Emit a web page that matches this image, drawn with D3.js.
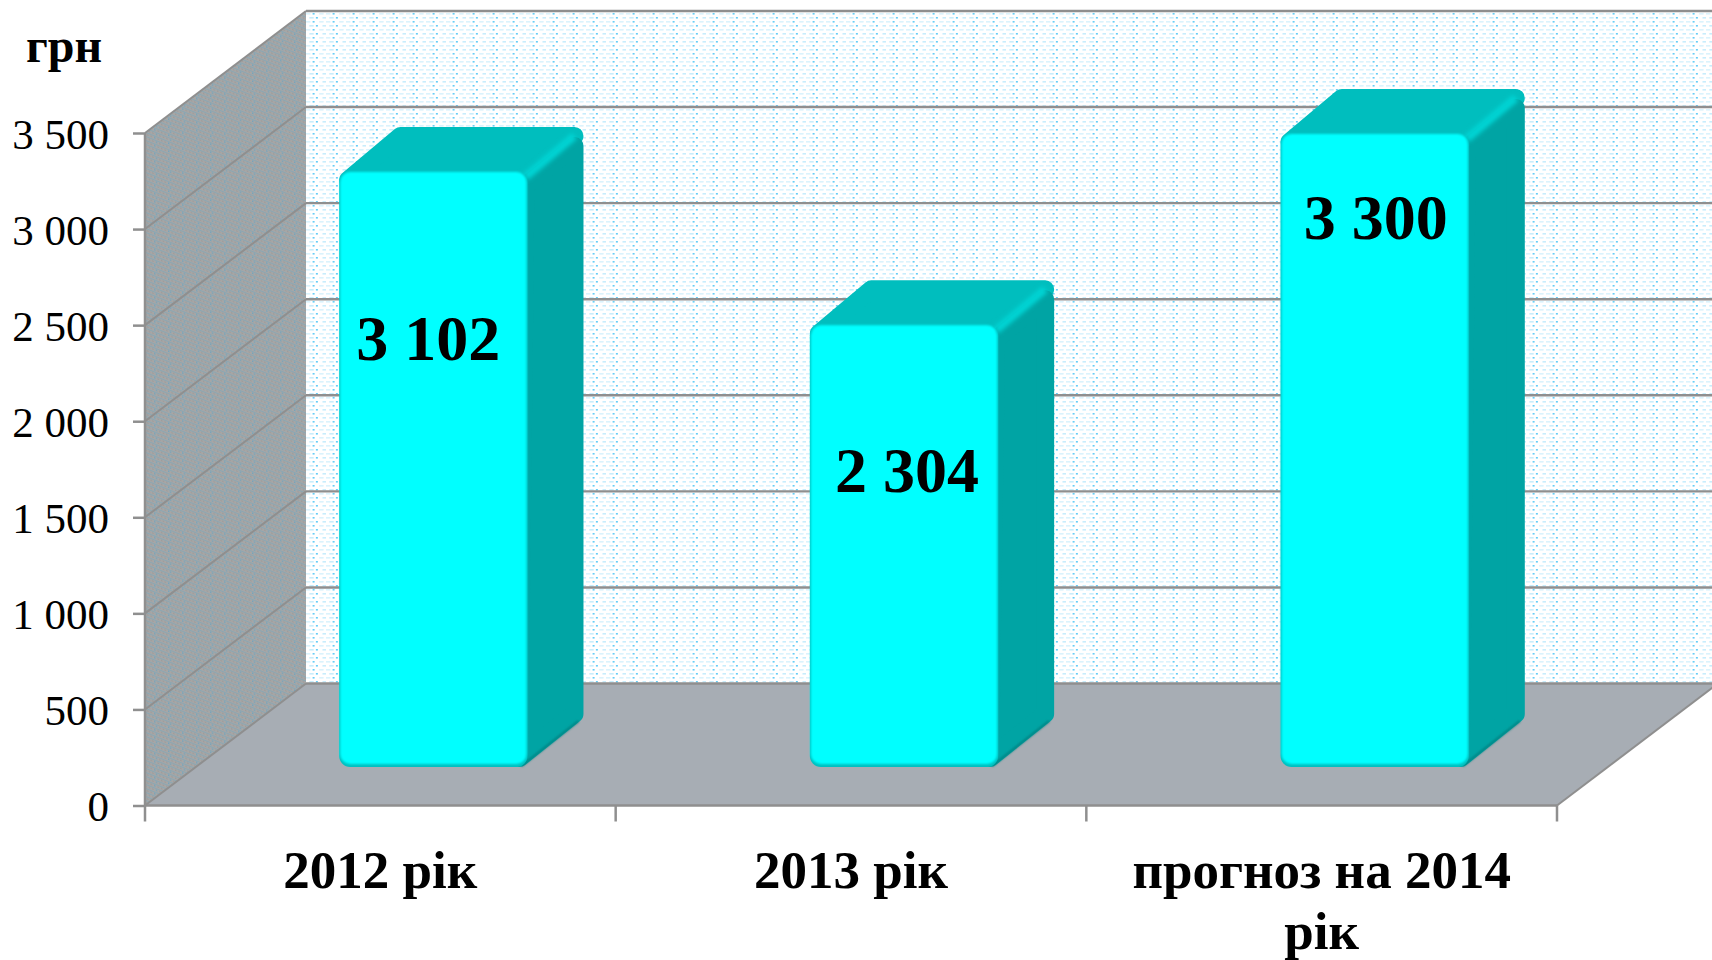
<!DOCTYPE html>
<html>
<head>
<meta charset="utf-8">
<script src="https://cdn.jsdelivr.net/npm/d3@7"></script>
<style>
	html, body { margin: 0; padding: 0; background: #fff; overflow: hidden; }
	text { font-family: "Liberation Serif", serif; fill: #000; }
</style>
</head>
<body>
<div class="svg-container"></div>
<script>
(function () {

	"use strict";

	// the data
	var categories = ["2012 рік", "2013 рік", "прогноз на 2014 рік"];
	var values = [3102, 2304, 3300];
	var value_labels = ["3 102", "2 304", "3 300"];
	var y_ticks = [0, 500, 1000, 1500, 2000, 2500, 3000, 3500];
	var unit_label = "грн";

	// chart box
	var width = 1712,
		height = 960,
		left = 145,
		right = 1557,
		floor_y = 805.5,
		top_y = 133;

	// 3d depth of the box and of the bars
	var depth_x = 161,
		depth_y = 122,
		bar_front_x = 53,
		bar_front_y = 38.5,
		bar_depth_x = 56,
		bar_depth_y = 44;

	var line_color = "#8f8f8f";

	var svg = d3.select(".svg-container").append("svg")
		.attr("width", width)
		.attr("height", height)
		.style("display", "block");

	var y = d3.scaleLinear().domain([0, 3500]).range([floor_y, top_y]);
	var x = d3.scaleBand().domain(categories).range([left, right]).paddingInner(0.6).paddingOuter(0.3);
	var x_labels = d3.scaleBand().domain(categories).range([left, right]);

	var defs = svg.append("defs");

	// back wall: light blue dashes on white, one stronger column every 20px
	var back_pattern = defs.append("pattern")
		.attr("id", "back-wall")
		.attr("patternUnits", "userSpaceOnUse")
		.attr("x", 306).attr("y", 12)
		.attr("width", 20).attr("height", 16);
	back_pattern.append("rect").attr("width", 20).attr("height", 16).attr("fill", "#fff");
	d3.range(4).forEach(function (row) {
		d3.range(3).forEach(function (col) {
			back_pattern.append("rect")
				.attr("x", col * 6.6 + (row % 2) * 3.3)
				.attr("y", row * 4 + 1)
				.attr("width", col === 1 ? 2 : 4.4)
				.attr("height", 1.6)
				.attr("fill", col === 1 ? "#4cc4f5" : "#c2ebfc")
				.attr("opacity", col === 1 ? 0.85 : 0.6 + (row % 2) * 0.3);
		});
	});

	// side wall: grey with fine blue streaks
	var side_pattern = defs.append("pattern")
		.attr("id", "side-wall")
		.attr("patternUnits", "userSpaceOnUse")
		.attr("width", 14).attr("height", 8)
		.attr("patternTransform", "skewY(22)");
	side_pattern.append("rect").attr("width", 14).attr("height", 8).attr("fill", "#a6a6a6");
	d3.range(2).forEach(function (row) {
		side_pattern.append("rect")
			.attr("y", row * 4 + 1).attr("width", 14).attr("height", 1)
			.attr("fill", "#7ea6b8").attr("opacity", 0.75);
		d3.range(4).forEach(function (col) {
			side_pattern.append("rect")
				.attr("x", col * 3.5 + row * 1.7).attr("y", row * 4 + 2.6)
				.attr("width", 1.4).attr("height", 1.2)
				.attr("fill", col === 0 ? "#5fa3c6" : "#8f8f8f")
				.attr("opacity", col === 0 ? 0.9 : 0.6);
		});
	});

	defs.append("filter").attr("id", "soft").attr("filterUnits", "userSpaceOnUse")
		.attr("x", 0).attr("y", 0).attr("width", width).attr("height", height)
		.append("feGaussianBlur").attr("stdDeviation", 2.2);
	defs.append("filter").attr("id", "soft-small").attr("filterUnits", "userSpaceOnUse")
		.attr("x", 0).attr("y", 0).attr("width", width).attr("height", height)
		.append("feGaussianBlur").attr("stdDeviation", 1);

	var line = d3.line();

	// walls
	var wall_top = top_y - depth_y,
		wall_bottom = floor_y - depth_y,
		back_left = left + depth_x,
		back_right = right + depth_x;

	svg.append("rect")
		.attr("x", back_left).attr("y", wall_top)
		.attr("width", back_right - back_left).attr("height", wall_bottom - wall_top)
		.attr("fill", "url(#back-wall)");

	svg.append("path")
		.attr("d", line([[left, top_y], [back_left, wall_top], [back_left, wall_bottom], [left, floor_y]]) + "Z")
		.attr("fill", "url(#side-wall)");

	svg.append("path")
		.attr("d", line([[left, floor_y], [back_left, wall_bottom], [back_right, wall_bottom], [right, floor_y]]) + "Z")
		.attr("fill", "#a7adb4");

	// gridlines on both walls
	var grid = svg.append("g").attr("class", "grid");

	grid.selectAll(".grid-side")
		.data(y_ticks)
		.enter()
		.append("line")
		.attr("class", "grid-side")
		.attr("x1", left).attr("x2", back_left)
		.attr("y1", function (d) { return y(d); })
		.attr("y2", function (d) { return y(d) - depth_y; })
		.attr("stroke", line_color)
		.attr("stroke-width", 2);

	grid.selectAll(".grid-back")
		.data(y_ticks)
		.enter()
		.append("line")
		.attr("class", "grid-back")
		.attr("x1", back_left).attr("x2", back_right)
		.attr("y1", function (d) { return y(d) - depth_y; })
		.attr("y2", function (d) { return y(d) - depth_y; })
		.attr("stroke", line_color)
		.attr("stroke-width", 2.4);

	svg.append("line")
		.attr("x1", right).attr("x2", back_right)
		.attr("y1", floor_y).attr("y2", wall_bottom)
		.attr("stroke", line_color).attr("stroke-width", 2);

	// bars
	var bars = svg.selectAll(".bar")
		.data(categories.map(function (d, i) { return { name: d, value: values[i], label: value_labels[i], index: i }; }))
		.enter()
		.append("g")
		.attr("class", "bar");

	function bar_box(d) {
		var x0 = x(d.name) + bar_front_x,
			x1 = x0 + x.bandwidth(),
			y0 = y(d.value) - bar_front_y,
			y1 = y(0) - bar_front_y;
		return { x0: x0, x1: x1, y0: y0, y1: y1 };
	}

	// top face, inset and stroked so the corners come out round
	bars.append("path")
		.attr("d", function (d) {
			var b = bar_box(d), r = 9;
			return line([
				[b.x0 + r, b.y0 + r],
				[b.x0 + bar_depth_x + r * 0.6, b.y0 - bar_depth_y + r],
				[b.x1 + bar_depth_x - r, b.y0 - bar_depth_y + r],
				[b.x1 - r, b.y0 + r]
			]) + "Z";
		})
		.attr("fill", "#00bebe")
		.attr("stroke", "#00bebe")
		.attr("stroke-width", 18)
		.attr("stroke-linejoin", "round");

	// side face
	bars.append("path")
		.attr("d", function (d) {
			var b = bar_box(d), r = 9;
			return line([
				[b.x1 - 2, b.y0 + 15],
				[b.x1 + bar_depth_x - r, b.y0 - bar_depth_y + 2 * r + 1],
				[b.x1 + bar_depth_x - r, b.y1 - bar_depth_y - r],
				[b.x1 - 8, b.y1 - r]
			]) + "Z";
		})
		.attr("fill", "#00a4a4")
		.attr("stroke", "#00a4a4")
		.attr("stroke-width", 18)
		.attr("stroke-linejoin", "round");

	// light bevel between top and side
	bars.append("line")
		.attr("x1", function (d) { return bar_box(d).x1 - 2; })
		.attr("y1", function (d) { return bar_box(d).y0 + 6; })
		.attr("x2", function (d) { return bar_box(d).x1 + bar_depth_x - 9; })
		.attr("y2", function (d) { return bar_box(d).y0 - bar_depth_y + 9; })
		.attr("stroke", "#00d4d4")
		.attr("stroke-width", 8)
		.attr("filter", "url(#soft)");

	// dark shadow on the lower edge of the side
	bars.append("line")
		.attr("x1", function (d) { return bar_box(d).x1 - 6; })
		.attr("y1", function (d) { return bar_box(d).y1 - 1; })
		.attr("x2", function (d) { return bar_box(d).x1 + bar_depth_x - 5; })
		.attr("y2", function (d) { return bar_box(d).y1 - bar_depth_y - 2; })
		.attr("stroke", "#008080")
		.attr("stroke-width", 2)
		.attr("filter", "url(#soft-small)");

	// front face: darker rim at the foot under a blurred cyan panel
	bars.append("rect")
		.attr("x", function (d) { return bar_box(d).x0; })
		.attr("y", function (d) { return bar_box(d).y0; })
		.attr("width", x.bandwidth())
		.attr("height", function (d) { var b = bar_box(d); return b.y1 - b.y0; })
		.attr("rx", 11)
		.attr("fill", "#00c0c0");

	bars.append("rect")
		.attr("x", function (d) { return bar_box(d).x0 + 1; })
		.attr("y", function (d) { return bar_box(d).y0 + 1; })
		.attr("width", x.bandwidth() - 2)
		.attr("height", function (d) { var b = bar_box(d); return b.y1 - b.y0 - 4; })
		.attr("rx", 10)
		.attr("fill", "#00ffff")
		.attr("filter", "url(#soft-small)");

	// hand placed value labels, they do not sit at a fixed distance from the bar top
	var label_shift = [[-5, 189], [3, 168], [1, 106]];

	bars.append("text")
		.attr("x", function (d) { var b = bar_box(d); return (b.x0 + b.x1) / 2 + label_shift[d.index][0]; })
		.attr("y", function (d) { return bar_box(d).y0 + label_shift[d.index][1]; })
		.attr("text-anchor", "middle")
		.style("font-size", "64px")
		.style("font-weight", "bold")
		.text(function (d) { return d.label; });

	// y axis
	var group_format = d3.formatLocale({ decimal: ".", thousands: " ", grouping: [3], currency: ["", ""] }).format(",");

	var y_axis = svg.append("g")
		.attr("transform", "translate(" + left + ",0)")
		.call(d3.axisLeft(y).tickValues(y_ticks).tickSize(12).tickPadding(24).tickFormat(group_format));

	y_axis.selectAll("path, line").attr("stroke", line_color).attr("stroke-width", 2.5);
	y_axis.select("path").attr("d", "M0," + top_y + "V" + floor_y);
	y_axis.selectAll("text").style("font-size", "43px").attr("dy", "0.36em");

	// x axis: line and ticks between the categories
	svg.append("line")
		.attr("x1", left).attr("x2", right)
		.attr("y1", floor_y).attr("y2", floor_y)
		.attr("stroke", line_color)
		.attr("stroke-width", 2.5);

	svg.selectAll(".x-tick")
		.data(d3.range(categories.length + 1))
		.enter()
		.append("line")
		.attr("class", "x-tick")
		.attr("x1", function (d) { return left + d * x_labels.step(); })
		.attr("x2", function (d) { return left + d * x_labels.step(); })
		.attr("y1", floor_y)
		.attr("y2", floor_y + 16)
		.attr("stroke", line_color)
		.attr("stroke-width", 2.5);

	// category labels, the long one wraps before the last word
	var cat_labels = svg.selectAll(".cat")
		.data(categories)
		.enter()
		.append("text")
		.attr("class", "cat")
		.attr("text-anchor", "middle")
		.style("font-size", "53px")
		.style("font-weight", "bold");

	cat_labels.each(function (d) {
		var words = d.split(" "),
			lines = words.length > 2 ? [words.slice(0, -1).join(" "), words[words.length - 1]] : [d],
			cx = x_labels(d) + x_labels.bandwidth() / 2;
		d3.select(this).selectAll("tspan")
			.data(lines)
			.enter()
			.append("tspan")
			.attr("x", cx)
			.attr("y", function (l, i) { return 888 + i * 61; })
			.text(function (l) { return l; });
	});

	svg.append("text")
		.attr("x", 64)
		.attr("y", 62)
		.attr("text-anchor", "middle")
		.style("font-size", "48px")
		.style("font-weight", "bold")
		.text(unit_label);

})();
</script>
</body>
</html>
